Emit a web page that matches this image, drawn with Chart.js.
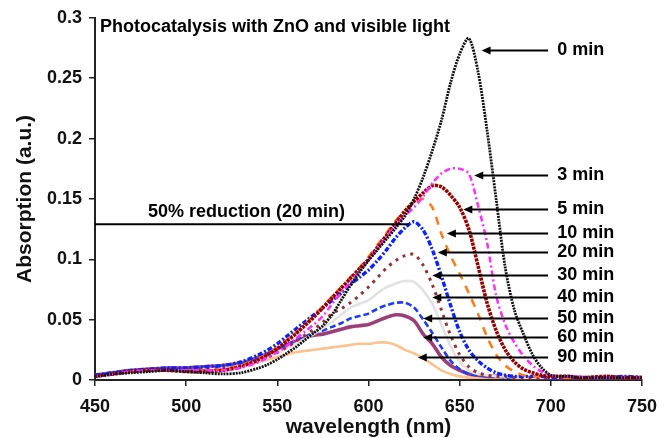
<!DOCTYPE html>
<html>
<head>
<meta charset="utf-8">
<script src="https://cdn.jsdelivr.net/npm/chart.js@4/dist/chart.umd.min.js"></script>
<style>
  html, body { margin: 0; padding: 0; background: #fff; }
  #wrap { width: 669px; height: 438px; }
</style>
</head>
<body>
<div id="wrap"><canvas id="myChart"></canvas></div>
<script>
// wavelength grid (nm)
const wavelength = [450,460,470,480,490,500,510,520,530,540,
  545,550,555,560,565,570,575,580,585,590,
  595,600,605,610,615,620,625,630,635,640,
  645,650,655,660,665,670,675,680,685,690,
  695,700,705,710,715,720,730,740,750];

// absorption, one array per irradiation time
const abs0 = [.003,.005,.006,.007,.008,.007,.006,.005,.006,.010,
  .013,.017,.022,.027,.033,.039,.045,.054,.066,.078,
  .089,.099,.108,.117,.126,.136,.150,.168,.190,.215,
  .246,.270,.283,.256,.207,.150,.093,.058,.038,.021,
  .010,.004,.003,.003,.002,.002,.002,.002,.002];
const abs3 = [.003,.005,.007,.008,.008,.008,.008,.008,.010,.015,
  .019,.023,.028,.034,.040,.046,.053,.063,.072,.081,
  .090,.099,.109,.119,.128,.136,.143,.152,.163,.171,
  .175,.175,.171,.145,.114,.070,.046,.031,.020,.012,
  .007,.004,.003,.003,.003,.002,.002,.002,.002];
const abs5 = [.003,.005,.007,.008,.008,.007,.007,.008,.011,.017,
  .021,.026,.032,.038,.045,.052,.060,.068,.076,.084,
  .092,.100,.110,.120,.130,.140,.148,.155,.161,.160,
  .153,.143,.125,.095,.064,.041,.025,.015,.009,.006,
  .004,.003,.003,.003,.002,.002,.003,.002,.002];
const abs10 = [.003,.005,.007,.008,.008,.008,.008,.009,.012,.018,
  .022,.027,.033,.039,.046,.053,.061,.069,.077,.085,
  .093,.102,.112,.122,.132,.140,.146,.150,.143,.121,
  .103,.088,.072,.055,.036,.021,.012,.007,.004,.003,
  .003,.003,.002,.002,.002,.002,.002,.002,.002];
const abs20 = [.004,.006,.008,.009,.010,.010,.011,.012,.015,.021,
  .025,.030,.036,.042,.048,.054,.060,.066,.072,.079,
  .085,.091,.099,.108,.118,.126,.131,.124,.108,.086,
  .062,.040,.025,.016,.010,.006,.004,.003,.003,.003,
  .003,.002,.002,.003,.002,.002,.002,.003,.002];
const abs30 = [.003,.005,.007,.008,.008,.008,.009,.010,.012,.016,
  .019,.023,.027,.032,.037,.042,.048,.055,.059,.064,
  .070,.077,.085,.093,.099,.103,.104,.095,.079,.058,
  .037,.021,.011,.006,.004,.003,.003,.002,.002,.002,
  .002,.002,.002,.002,.002,.002,.002,.002,.002];
const abs40 = [.003,.005,.007,.008,.008,.008,.009,.010,.012,.016,
  .019,.022,.026,.030,.034,.038,.043,.048,.054,.060,
  .063,.066,.072,.077,.080,.082,.081,.074,.063,.046,
  .028,.015,.008,.005,.004,.003,.003,.002,.002,.002,
  .002,.002,.002,.002,.002,.002,.002,.002,.002];
const abs50 = [.004,.006,.007,.008,.009,.009,.010,.011,.013,.018,
  .021,.025,.029,.033,.036,.039,.041,.044,.047,.051,
  .053,.055,.059,.062,.064,.064,.060,.050,.039,.027,
  .016,.009,.005,.004,.003,.003,.002,.002,.002,.002,
  .002,.002,.002,.002,.002,.002,.002,.002,.002];
const abs60 = [.004,.006,.008,.009,.010,.010,.011,.012,.014,.019,
  .022,.026,.029,.032,.035,.037,.038,.040,.042,.044,
  .045,.046,.049,.052,.054,.053,.049,.038,.030,.019,
  .012,.008,.005,.004,.003,.003,.003,.002,.002,.002,
  .002,.002,.002,.002,.002,.002,.002,.002,.002];
const abs90 = [.004,.006,.007,.008,.008,.008,.009,.010,.012,.015,
  .017,.019,.021,.023,.024,.025,.026,.027,.028,.029,
  .030,.030,.031,.031,.029,.025,.022,.018,.013,.008,
  .005,.003,.002,.002,.002,.002,.002,.002,.002,.002,
  .002,.002,.002,.002,.002,.002,.002,.002,.002];

const seriesLabels = ['0 min','3 min','5 min','10 min','20 min','30 min','40 min','50 min','60 min','90 min'];
const arrowLevel = [0.273,0.170,0.142,0.122,0.106,0.087,0.069,0.051,0.036,0.019]; // label height (a.u.)
const arrowTip = [662,658,652,643,638,635,635,630,630,627];                   // arrow tip (nm)

const xTicks = [450,500,550,600,650,700,750];
const yTicks = [0,0.05,0.1,0.15,0.2,0.25,0.3];
const yTickLabels = ['0','0.05','0.1','0.15','0.2','0.25','0.3'];

const chartTitle = 'Photocatalysis with ZnO and visible light';
const reductionText = '50% reduction (20 min)';
const reductionLevel = 0.129;
const reductionEnd = 622;

const FONT = '"Liberation Sans", Arial, sans-serif';

function pts(values) {
  return wavelength.map((w, i) => ({ x: w, y: values[i] }));
}

// style per series: colour, width, dash
const styles = [
  ['#111111', 2.8, [2, 1]],
  ['#ff2bff', 2.5, [6, 3, 2, 3]],
  ['#990000', 3.6, [3, 1]],
  ['#ff7a1a', 2.6, [8, 7]],
  ['#0a22ff', 3.4, [5, 2, 2, 2]],
  ['#993333', 3, [3, 5]],
  ['#e2e2e2', 2.6, []],
  ['#1a3cff', 2.6, [6, 3]],
  ['#9c3f78', 3.6, []],
  ['#fcc28c', 2.6, []]
];
const allValues = [abs0, abs3, abs5, abs10, abs20, abs30, abs40, abs50, abs60, abs90];

const datasets = allValues.map((vals, i) => ({
  label: seriesLabels[i],
  data: pts(vals),
  borderColor: styles[i][0],
  borderWidth: styles[i][1],
  borderDash: styles[i][2],
  pointRadius: 0,
  tension: 0.3,
  fill: false
}));

const annotations = {
  id: 'annotations',
  afterDatasetsDraw(chart) {
    const { ctx, chartArea, scales: { x, y } } = chart;
    ctx.save();
    ctx.fillStyle = '#000';
    ctx.strokeStyle = '#000';
    ctx.font = 'bold 18px ' + FONT;
    ctx.textBaseline = 'middle';
    ctx.fillText(chartTitle, chartArea.left + 5, chartArea.top + 9);

    // 50% line
    const ly = y.getPixelForValue(reductionLevel);
    ctx.lineWidth = 2;
    ctx.beginPath();
    ctx.moveTo(chartArea.left, ly);
    ctx.lineTo(x.getPixelForValue(reductionEnd), ly);
    ctx.stroke();
    ctx.textBaseline = 'alphabetic';
    ctx.fillText(reductionText, x.getPixelForValue(479), ly - 7);

    // arrows and time labels
    ctx.textBaseline = 'middle';
    const tailX = x.getPixelForValue(698.5);
    const textX = x.getPixelForValue(703.5);
    seriesLabels.forEach((lab, i) => {
      const py = Math.round(y.getPixelForValue(arrowLevel[i])) + 0.5;
      const tx = x.getPixelForValue(arrowTip[i]);
      ctx.lineWidth = 1.8;
      ctx.beginPath();
      ctx.moveTo(tailX, py);
      ctx.lineTo(tx + 6, py);
      ctx.stroke();
      ctx.beginPath();
      ctx.moveTo(tx, py);
      ctx.lineTo(tx + 9, py - 4);
      ctx.lineTo(tx + 9, py + 4);
      ctx.closePath();
      ctx.fill();
      ctx.fillText(lab, textX, py);
    });
    ctx.restore();
  }
};

new Chart(document.getElementById('myChart'), {
  type: 'line',
  data: { datasets: datasets },
  options: {
    responsive: true,
    maintainAspectRatio: false,
    animation: false,
    layout: { padding: { left: 0, top: 17, right: 27, bottom: 0 } },
    plugins: { legend: { display: false }, tooltip: { enabled: false } },
    scales: {
      x: {
        type: 'linear',
        min: 450,
        max: 750,
        afterBuildTicks: s => { s.ticks = xTicks.map(v => ({ value: v })); },
        afterFit: s => { s.height = 58; },
        grid: { drawOnChartArea: false, tickLength: 6, color: '#222', lineWidth: 1.5 },
        border: { color: '#222', width: 2 },
        ticks: { color: '#111', padding: 10, font: { family: FONT, size: 18, weight: 'bold' } },
        title: {
          display: true,
          text: 'wavelength (nm)',
          color: '#111',
          padding: { top: 0, bottom: -2 },
          font: { family: FONT, size: 21, weight: 'bold' }
        }
      },
      y: {
        min: 0,
        max: 0.3,
        afterBuildTicks: s => { s.ticks = yTicks.map(v => ({ value: v })); },
        afterFit: s => { s.width = 95; },
        grid: { drawOnChartArea: false, tickLength: 6, color: '#222', lineWidth: 1.5 },
        border: { color: '#222', width: 2 },
        ticks: {
          color: '#111',
          padding: 7,
          font: { family: FONT, size: 18, weight: 'bold' },
          callback: (v, i) => yTickLabels[i]
        },
        title: {
          display: true,
          text: 'Absorption (a.u.)',
          color: '#111',
          padding: { top: 13, bottom: 0 },
          font: { family: FONT, size: 21, weight: 'bold' }
        }
      }
    }
  },
  plugins: [annotations]
});
</script>
</body>
</html>
